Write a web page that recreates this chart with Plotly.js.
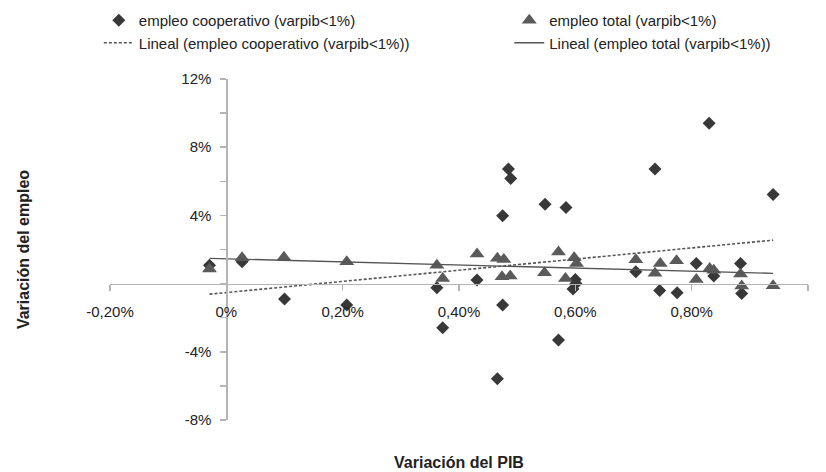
<!DOCTYPE html>
<html>
<head>
<meta charset="utf-8">
<script src="https://cdn.plot.ly/plotly-3.0.1.min.js"></script>
<style>html,body{margin:0;padding:0;background:#fff;}#chart{width:826px;height:472px;}</style>
</head>
<body>
<div id="chart"></div>
<script>
// Data (values in percent)
var coopX = [-0.029, 0.027, 0.100, 0.207, 0.362, 0.372, 0.431, 0.466, 0.475, 0.475, 0.485, 0.489, 0.548, 0.571, 0.584, 0.600, 0.601, 0.596, 0.704, 0.737, 0.745, 0.775, 0.808, 0.830, 0.838, 0.884, 0.886, 0.940];
var coopY = [1.08, 1.28, -0.90, -1.26, -0.25, -2.59, 0.21, -5.58, 3.98, -1.26, 6.72, 6.17, 4.66, -3.31, 4.47, 0.24, 0.00, -0.32, 0.69, 6.72, -0.40, -0.54, 1.18, 9.40, 0.44, 1.18, -0.58, 5.23];
var totalX = [-0.029, 0.027, 0.099, 0.207, 0.362, 0.372, 0.431, 0.466, 0.477, 0.474, 0.488, 0.547, 0.571, 0.583, 0.598, 0.602, 0.704, 0.737, 0.746, 0.774, 0.808, 0.831, 0.838, 0.884, 0.886, 0.940];
var totalY = [0.85, 1.52, 1.54, 1.28, 1.08, 0.30, 1.73, 1.48, 1.42, 0.40, 0.44, 0.64, 1.85, 0.30, 1.52, 1.18, 1.40, 0.60, 1.18, 1.34, 0.24, 0.89, 0.78, 0.57, -0.14, -0.12];
var trendX = [-0.029, 0.940];
var coopTrendY = [-0.62, 2.55];
var totalTrendY = [1.48, 0.60];

var seriesNames = ['empleo cooperativo (varpib<1%)', 'empleo total (varpib<1%)', 'Lineal (empleo cooperativo (varpib<1%))', 'Lineal (empleo total (varpib<1%))'];
var xTickVals = [-0.2, 0, 0.2, 0.4, 0.6, 0.8, 1.0];
var xTickText = ['-0,20%', '0%', '0,20%', '0,40%', '0,60%', '0,80%', '1,00%'];
var yTickVals = [-8, -6, -4, -2, 0, 2, 4, 6, 8, 10, 12];
var yTickText = ['-8%', '', '-4%', '', '', '', '4%', '', '8%', '', '12%'];
var xTitle = 'Variación del PIB';
var yTitle = 'Variación del empleo';

var FONT = '"Liberation Sans", Arial, sans-serif';
var axisColor = '#b4b4b4';

var traces = [
  {x: coopX, y: coopY, type: 'scatter', mode: 'markers', name: seriesNames[0], legend: 'legend',
   marker: {symbol: 'diamond', size: 10, color: '#383838'}},
  {x: totalX, y: totalY, type: 'scatter', mode: 'markers', name: seriesNames[1], legend: 'legend2',
   marker: {symbol: 'triangle-up', size: 13, color: '#5a5a5a'}},
  {x: trendX, y: coopTrendY, type: 'scatter', mode: 'lines', name: seriesNames[2], legend: 'legend',
   line: {color: '#555555', width: 1.6, dash: '3px,2px'}},
  {x: trendX, y: totalTrendY, type: 'scatter', mode: 'lines', name: seriesNames[3], legend: 'legend2',
   line: {color: '#555555', width: 1.4}}
];

var legendBase = {orientation: 'v', xanchor: 'left', y: 1.22, yanchor: 'top',
                  font: {family: FONT, size: 15, color: '#222'}, bgcolor: 'rgba(0,0,0,0)', traceorder: 'normal'};

var layout = {
  width: 826, height: 472,
  margin: {l: 110, r: 18, t: 79, b: 52, autoexpand: false},
  paper_bgcolor: '#ffffff', plot_bgcolor: '#ffffff',
  font: {family: FONT, size: 15, color: '#222222'},
  showlegend: true,
  legend: Object.assign({}, legendBase, {x: -0.016}),
  legend2: Object.assign({}, legendBase, {x: 0.572}),
  xaxis: {range: [-0.2, 1.0], domain: [0, 1], anchor: 'free', position: 0.4,
          showgrid: false, zeroline: false, showline: true, linecolor: axisColor, linewidth: 1.5,
          ticks: 'outside', ticklen: 6, tickwidth: 1.5, tickcolor: axisColor,
          tickmode: 'array', tickvals: xTickVals, ticktext: xTickText, ticklabelstandoff: 8,
          tickfont: {family: FONT, size: 15, color: '#222'},
          title: {text: '<b>' + xTitle + '</b>', font: {family: FONT, size: 16, color: '#222'}, standoff: 137}},
  yaxis: {range: [-8, 12], domain: [0, 1], anchor: 'free', position: 0.16667,
          showgrid: false, zeroline: false, showline: true, linecolor: axisColor, linewidth: 1.5,
          ticks: 'outside', ticklen: 6, tickwidth: 1.5, tickcolor: axisColor,
          tickmode: 'array', tickvals: yTickVals, ticktext: yTickText, ticklabelstandoff: 6,
          tickfont: {family: FONT, size: 15, color: '#222'},
          title: {text: '<b>' + yTitle + '</b>', font: {family: FONT, size: 16, color: '#222'}, standoff: 146}}
};

Plotly.newPlot('chart', traces, layout, {displayModeBar: false, staticPlot: true});
</script>
</body>
</html>
